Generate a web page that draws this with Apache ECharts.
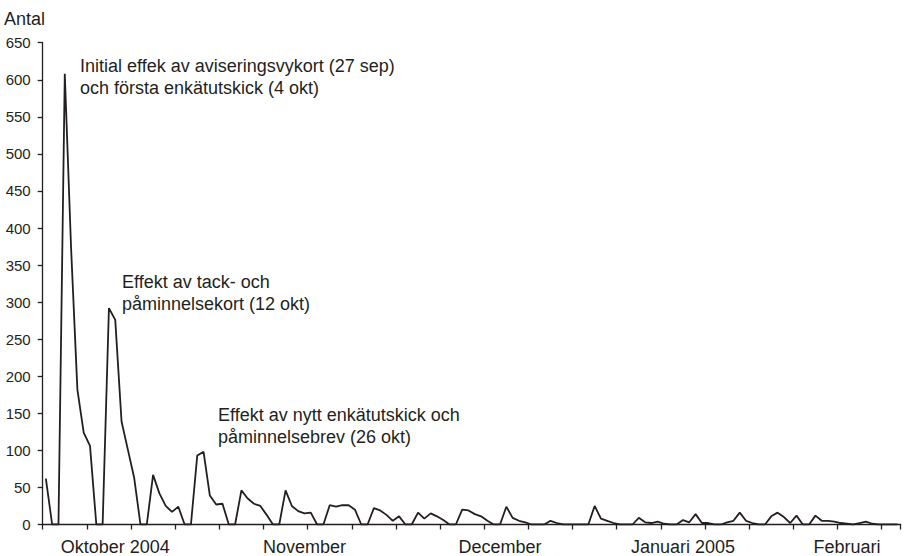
<!DOCTYPE html>
<html><head><meta charset="utf-8">
<script src="https://cdn.jsdelivr.net/npm/echarts@6/dist/echarts.min.js"></script>
<style>html,body{margin:0;padding:0;background:#fff}#c{width:906px;height:556px}</style>
</head><body><div id="c"></div>
<script>
// Daily number of responses, starting Friday 24 Sep 2004
const startDate = [2004, 8, 24];
const antal = [
  62,0,0,608,373,182,124,106,0,0,292,276,139,101,63,0,0,67,42,25,17,24,0,0,93,98,39,27,28,0,0,46,35,28,25,13,0,0,46,
  25,18,15,16,0,0,26,24,26,26,20,0,0,22,19,13,5,11,0,0,16,8,15,11,
  6,0,0,20,19,14,11,5,0,0,24,9,5,3,0,0,0,5,2,0,0,0,0,0,25,8,
  5,2,0,0,0,9,3,2,4,1,0,0,6,3,14,2,2,0,0,3,5,16,5,2,
  0,0,11,16,10,2,12,0,0,12,5,5,4,2,1,0,2,4,1,0,0,0,0
];
const monthLabelIndex = [11, 41, 72, 101, 127];
const monthLabelText = ['Oktober 2004', 'November', 'December', 'Januari 2005', 'Februari'];
const yMin = 0, yMax = 650, yInterval = 50;
const tickEvery = 7;
const yTitle = 'Antal';
const annotationTexts = [
  'Initial effek av aviseringsvykort (27 sep)\noch första enkätutskick (4 okt)',
  'Effekt av tack- och\npåminnelsekort (12 okt)',
  'Effekt av nytt enkätutskick och\npåminnelsebrev (26 okt)'
];

const categories = antal.map(function (_, i) {
  const d = new Date(startDate[0], startDate[1], startDate[2] + i);
  return d.getFullYear() + '-' + String(d.getMonth() + 1).padStart(2, '0') + '-' + String(d.getDate()).padStart(2, '0');
});

const FONT = '"Liberation Sans", Arial, Helvetica, sans-serif';
const INK = '#231f20';
const annotationPos = [[80, 55.5], [122, 271.5], [218, 404.5]];

const chart = echarts.init(document.getElementById('c'), null, { renderer: 'svg' });
chart.setOption({
  animation: false,
  backgroundColor: '#fff',
  grid: { left: 42.7, right: 5.4, top: 42.7, bottom: 31.5, containLabel: false, outerBoundsMode: 'none' },
  xAxis: {
    type: 'category',
    data: categories,
    boundaryGap: true,
    axisLine: { show: true, lineStyle: { color: INK, width: 1.3 } },
    axisTick: { show: true, length: 5, lineStyle: { color: INK, width: 1.3 },
      interval: function (i) { return i % tickEvery === 0; } },
    axisLabel: {
      show: true, margin: 13, fontSize: 18, fontFamily: FONT, color: INK,
      interval: function (i) { return monthLabelIndex.indexOf(i) >= 0; },
      formatter: function (v, i) { const k = monthLabelIndex.indexOf(i); return k >= 0 ? monthLabelText[k] : ''; }
    },
    splitLine: { show: false }
  },
  yAxis: {
    type: 'value', min: yMin, max: yMax, interval: yInterval,
    axisLine: { show: true, lineStyle: { color: INK, width: 1.3 } },
    axisTick: { show: true, length: 5, lineStyle: { color: INK, width: 1.3 } },
    axisLabel: { margin: 12, fontSize: 15, fontFamily: FONT, color: INK },
    splitLine: { show: false }
  },
  series: [{
    type: 'line', data: antal, symbol: 'none', showSymbol: false,
    lineStyle: { color: INK, width: 1.8 }, z: 1
  }],
  graphic: [
    { type: 'text', x: 4, y: 10, style: { text: yTitle, font: '18px ' + FONT, fill: INK, verticalAlign: 'top', lineHeight: 18 } }
  ].concat(annotationTexts.map(function (t, i) {
    return { type: 'text', x: annotationPos[i][0], y: annotationPos[i][1],
      style: { text: t, font: '18px ' + FONT, fill: INK, verticalAlign: 'top', lineHeight: 21.5 } };
  }))
});
</script></body></html>
